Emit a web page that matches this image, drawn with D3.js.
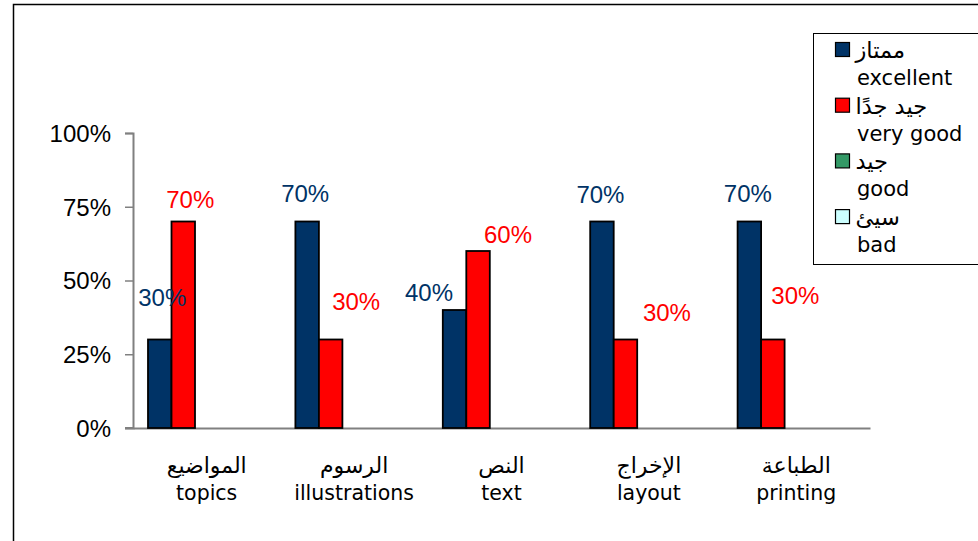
<!DOCTYPE html>
<html><head><meta charset="utf-8">
<script src="https://cdn.jsdelivr.net/npm/d3@7/dist/d3.min.js"></script>
<style>html,body{margin:0;padding:0;background:#fff;overflow:hidden}</style>
</head><body>
<svg id="c" width="978" height="541"></svg>
<script>
// ---- data ----
const categoriesAr = ["المواضيع", "الرسوم", "النص", "الإخراج", "الطباعة"];
const categoriesEn = ["topics", "illustrations", "text", "layout", "printing"];
const seriesKeys = ["excellent", "veryGood", "good", "bad"];
const seriesAr = ["ممتاز", "جيد جدًا", "جيد", "سيئ"];
const seriesEn = ["excellent", "very good", "good", "bad"];
const excellent = [0.30, 0.70, 0.40, 0.70, 0.70];
const veryGood = [0.70, 0.30, 0.60, 0.30, 0.30];
const good = [0, 0, 0, 0, 0];
const bad = [0, 0, 0, 0, 0];
const yTicks = [0, 0.25, 0.5, 0.75, 1];
const yTickLabels = ["0%", "25%", "50%", "75%", "100%"];

// ---- styling (not data) ----
const colors = { excellent: "#003366", veryGood: "#FF0000", good: "#339966", bad: "#CCFFFF" };
// manual nudges of the value labels (dx from bar centre, dy from bar top)
const labelNudge = {
  excellent: [[2.5, -34], [-2, -20], [-25.5, -9], [-1.5, -19], [-1.5, -20]],
  veryGood: [[7, -14], [25.5, -30], [30, -8], [41.5, -19], [22.5, -36]]
};

const seriesValues = { excellent, veryGood, good, bad };
const svg = d3.select("#c");

// outer frame
svg.append("rect").attr("x", 13.5).attr("y", 4.5).attr("width", 980).attr("height", 560)
  .attr("fill", "none").attr("stroke", "#000").attr("stroke-width", 1.5);

const y = d3.scaleLinear().domain([0, 1]).range([428, 133]);
const x0 = d3.scaleBand().domain(d3.range(categoriesEn.length)).range([133, 870]);
const x1 = d3.scaleBand().domain(seriesKeys).range([15, 109]);

// y axis
const yAxis = d3.axisLeft(y).tickValues(yTicks).tickSize(8).tickPadding(14)
  .tickFormat((d, i) => yTickLabels[i]);
const gy = svg.append("g").attr("transform", "translate(133,0)").call(yAxis);
gy.select(".domain").attr("stroke", "#808080").attr("stroke-width", 2);
gy.selectAll(".tick line").attr("stroke", "#808080").attr("stroke-width", 1.5);
gy.selectAll(".tick text").attr("font-family", "'Liberation Sans', Arial, sans-serif")
  .attr("font-size", 24).attr("fill", "#000").attr("dy", "0.35em");

// x axis line
const xAxis = d3.axisBottom(x0).tickSize(0).tickFormat(() => "");
const gx = svg.append("g").attr("transform", "translate(0,428)").call(xAxis);
gx.select(".domain").attr("stroke", "#808080").attr("stroke-width", 2);
svg.append("line").attr("x1", 125).attr("x2", 133).attr("y1", 428).attr("y2", 428)
  .attr("stroke", "#808080").attr("stroke-width", 2);

// bars
const groups = svg.append("g").selectAll("g").data(categoriesEn).join("g")
  .attr("transform", (d, i) => `translate(${x0(i)},0)`);
groups.each(function (c, i) {
  const g = d3.select(this);
  seriesKeys.forEach(k => {
    const v = seriesValues[k][i];
    if (v <= 0) return;
    g.append("rect").attr("x", x1(k)).attr("width", x1.bandwidth())
      .attr("y", y(v)).attr("height", y(0) - y(v))
      .attr("fill", colors[k]).attr("stroke", "#000").attr("stroke-width", 1.8);
  });
});

// value labels
["excellent", "veryGood"].forEach(k => {
  seriesValues[k].forEach((v, i) => {
    const [dx, dy] = labelNudge[k][i];
    svg.append("text")
      .attr("x", x0(i) + x1(k) + x1.bandwidth() / 2 + dx)
      .attr("y", y(v) + dy)
      .attr("text-anchor", "middle")
      .attr("font-family", "'Liberation Sans', Arial, sans-serif")
      .attr("font-size", 24).attr("fill", colors[k])
      .text(d3.format(".0%")(v));
  });
});

// category labels
categoriesEn.forEach((c, i) => {
  const cx = x0(i) + x0.bandwidth() / 2;
  svg.append("text").attr("x", cx).attr("y", 473).attr("text-anchor", "middle")
    .attr("font-family", "'DejaVu Sans', sans-serif").attr("font-size", 22)
    .attr("fill", "#000").text(categoriesAr[i]);
  svg.append("text").attr("x", cx).attr("y", 500).attr("text-anchor", "middle")
    .attr("font-family", "'DejaVu Sans', sans-serif").attr("font-size", 20.5)
    .attr("fill", "#000").text(c);
});

// legend
const lg = svg.append("g");
lg.append("rect").attr("x", 813.5).attr("y", 33.5).attr("width", 200).attr("height", 231)
  .attr("fill", "#fff").attr("stroke", "#000").attr("stroke-width", 1);
seriesKeys.forEach((k, i) => {
  const base = 58 + i * 55.7;
  lg.append("rect").attr("x", 835.5).attr("y", base - 15.5).attr("width", 14).attr("height", 14)
    .attr("fill", colors[k]).attr("stroke", "#000").attr("stroke-width", 1.2);
  lg.append("text").attr("x", 855.5).attr("y", base).attr("text-anchor", "start")
    .attr("font-family", "'DejaVu Sans', sans-serif").attr("font-size", 22.5)
    .attr("fill", "#000").text(seriesAr[i]);
  lg.append("text").attr("x", 857).attr("y", base + 27).attr("text-anchor", "start")
    .attr("font-family", "'DejaVu Sans', sans-serif").attr("font-size", 21)
    .attr("fill", "#000").text(seriesEn[i]);
});
</script>
</body></html>
